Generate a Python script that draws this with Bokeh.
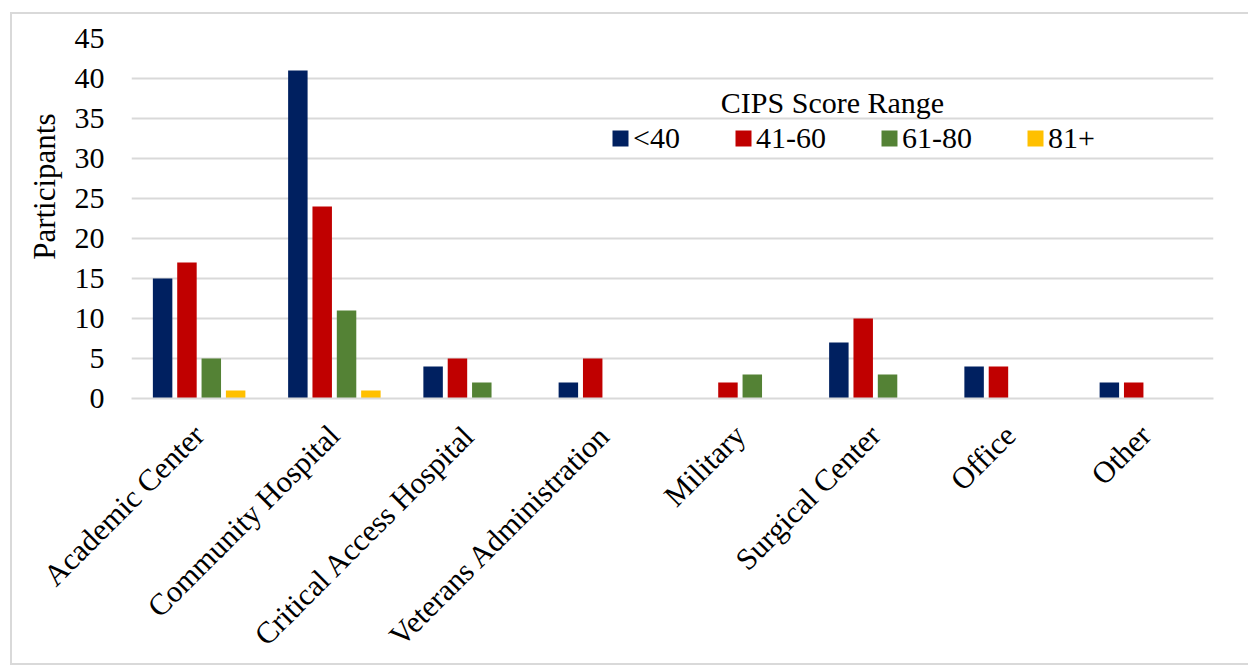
from math import pi

from bokeh.embed import file_html
from bokeh.models import (ColumnDataSource, FactorRange, Label, Legend,
                          LegendItem, SingleIntervalTicker, Title)
from bokeh.plotting import figure
from bokeh.resources import INLINE
from bokeh.transform import dodge

# Participants per practice setting, split by CIPS score range
settings = ["Academic Center", "Community Hospital", "Critical Access Hospital",
            "Veterans Administration", "Military", "Surgical Center", "Office", "Other"]
score_ranges = ["<40", "41-60", "61-80", "81+"]
under_40 = [15, 41, 4, 2, 0, 7, 4, 2]
from_41_to_60 = [17, 24, 5, 5, 2, 10, 4, 2]
from_61_to_80 = [5, 11, 2, 0, 3, 3, 0, 0]
over_80 = [1, 1, 0, 0, 0, 0, 0, 0]
y_ticks_step = 5
y_max = 45

colors = ["#002060", "#C00000", "#548235", "#FFC000"]
offsets = [-0.27, -0.09, 0.09, 0.27]

FONT = "Liberation Serif"
GRID = "#D9D9D9"

source = ColumnDataSource(dict(
    setting=settings, s0=under_40, s1=from_41_to_60, s2=from_61_to_80, s3=over_80))

p = figure(
    width=1238, height=653,
    x_range=FactorRange(*settings), y_range=(0, y_max),
    output_backend="svg", toolbar_location=None,
    min_border_left=119, min_border_right=37,
    min_border_top=24, min_border_bottom=268,
)
p.background_fill_color = "white"
p.border_fill_color = "white"
p.outline_line_color = None
# thin grey frame around the whole chart
p.styles = {
    "margin-left": "10px", "margin-top": "12px",
    "border-left": f"2px solid {GRID}", "border-top": f"2px solid {GRID}",
    "border-bottom": f"2px solid {GRID}", "border-right": "none",
}

renderers = []
for i, (col, off) in enumerate(zip(colors, offsets)):
    r = p.vbar(x=dodge("setting", off, range=p.x_range), top=f"s{i}",
               width=0.144, source=source, fill_color=col, line_color=None)
    renderers.append(r)

# y axis
p.yaxis.ticker = SingleIntervalTicker(interval=y_ticks_step)
p.yaxis.axis_line_color = None
p.yaxis.major_tick_line_color = None
p.yaxis.minor_tick_line_color = None
p.yaxis.major_label_standoff = 21
p.yaxis.major_label_text_font = FONT
p.yaxis.major_label_text_font_size = "30px"
p.yaxis.major_label_text_color = "black"

# x axis
p.xaxis.axis_line_color = GRID
p.xaxis.axis_line_width = 2
p.xaxis.major_tick_line_color = None
p.xaxis.minor_tick_line_color = None
p.xaxis.major_label_orientation = pi / 4
p.xaxis.major_label_standoff = 26
p.xaxis.major_label_text_font = FONT
p.xaxis.major_label_text_font_size = "30.5px"
p.xaxis.major_label_text_color = "black"

p.xgrid.grid_line_color = None
p.ygrid.grid_line_color = GRID
p.ygrid.grid_line_width = 2

# y axis title
p.add_layout(Title(text="Participants", align="right", offset=75, standoff=20,
                   text_font=FONT, text_font_size="31px", text_font_style="normal",
                   text_color="black"), "left")

# legend title and legend
p.add_layout(Label(x=701, y=296, x_units="screen", y_units="screen",
                   text="CIPS Score Range",
                   text_align="center", text_baseline="middle",
                   text_font=FONT, text_font_size="30px", text_color="black"))

legend = Legend(
    items=[LegendItem(label=lab, renderers=[r]) for lab, r in zip(score_ranges, renderers)],
    orientation="horizontal", location=(479, 243),
    glyph_width=20, glyph_height=20, label_standoff=3, spacing=53,
    padding=0, margin=0, label_width=0,
    background_fill_alpha=0, border_line_color=None,
    label_text_font=FONT, label_text_font_size="30px", label_text_color="black",
)
p.add_layout(legend, "center")

open("out.html", "w").write(file_html(p, INLINE))
